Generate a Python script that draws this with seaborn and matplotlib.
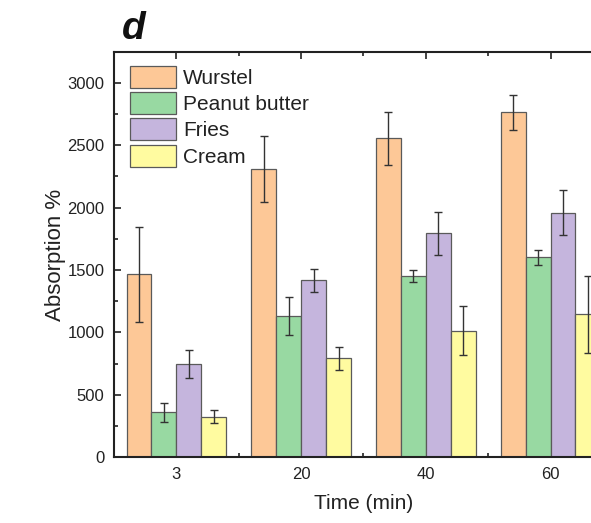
import matplotlib
matplotlib.use("Agg")
import matplotlib.pyplot as plt
import seaborn as sns
import pandas as pd
from matplotlib.ticker import MultipleLocator

# values
times = ["3", "20", "40", "60"]
foods = ["Wurstel", "Peanut butter", "Fries", "Cream"]
wurstel = [1467, 2309, 2556, 2764]
peanut = [358, 1133, 1454, 1601]
fries = [746, 1419, 1793, 1959]
cream = [323, 791, 1013, 1144]
wurstel_err = [380, 262, 211, 143]
peanut_err = [73, 150, 50, 60]
fries_err = [109, 92, 169, 182]
cream_err = [53, 90, 195, 310]

colors = ["#FDC897", "#98D9A2", "#C5B5DD", "#FFFBA0"]

rows = []
for food, vals in zip(foods, [wurstel, peanut, fries, cream]):
    for t, v in zip(times, vals):
        rows.append({"time": t, "food": food, "value": v})
df = pd.DataFrame(rows)

sns.set_theme(style="ticks")
plt.rcParams['font.family'] = ['Liberation Sans', 'DejaVu Sans']

fig = plt.figure(figsize=(5.91, 5.23), dpi=100)
ax = fig.add_axes([0.193, 0.126, 0.844, 0.775])

sns.barplot(data=df, x="time", y="value", hue="food", order=times, hue_order=foods,
            palette=colors, errorbar=None, width=0.8, edgecolor="#5a5a5a",
            linewidth=0.9, saturation=1, ax=ax)

# error bars on top of each bar
errs = [wurstel_err, peanut_err, fries_err, cream_err]
for cont, err in zip(ax.containers, errs):
    xs = [p.get_x() + p.get_width() / 2 for p in cont.patches]
    hs = [p.get_height() for p in cont.patches]
    ax.errorbar(xs, hs, yerr=err, fmt="none", ecolor="#333333", elinewidth=1,
                capsize=3, capthick=1)

ax.set_ylim(0, 3250)
ax.set_xlim(-0.5, 3.5)
ax.yaxis.set_major_locator(MultipleLocator(500))
ax.yaxis.set_minor_locator(MultipleLocator(250))
ax.set_xticks([0.5, 1.5, 2.5], minor=True)

for s in ax.spines.values():
    s.set_visible(True)
    s.set_linewidth(1.5)
    s.set_color("#222222")
ax.tick_params(which="both", direction="in", top=True, right=True, width=1.2,
               color="#222222", labelsize=12, labelcolor="#222222", pad=7)
ax.tick_params(which="major", length=5)
ax.tick_params(which="minor", length=3)

ax.set_xlabel("Time (min)", fontsize=15, color="#222222", labelpad=9)
ax.set_ylabel("Absorption %", fontsize=16, color="#222222", labelpad=1)

leg = ax.legend(loc="upper left", frameon=False, fontsize=15, handlelength=2.2,
                handleheight=1.25, labelspacing=0.2, handletextpad=0.35,
                borderaxespad=0.0, borderpad=0.0, bbox_to_anchor=(0.032, 0.965))
for txt in leg.get_texts():
    txt.set_color("#222222")

fig.text(0.207, 0.925, "d", fontsize=28, fontweight="bold", fontstyle="italic",
         color="#111111")

fig.savefig("out.png", dpi=100, facecolor="white")
